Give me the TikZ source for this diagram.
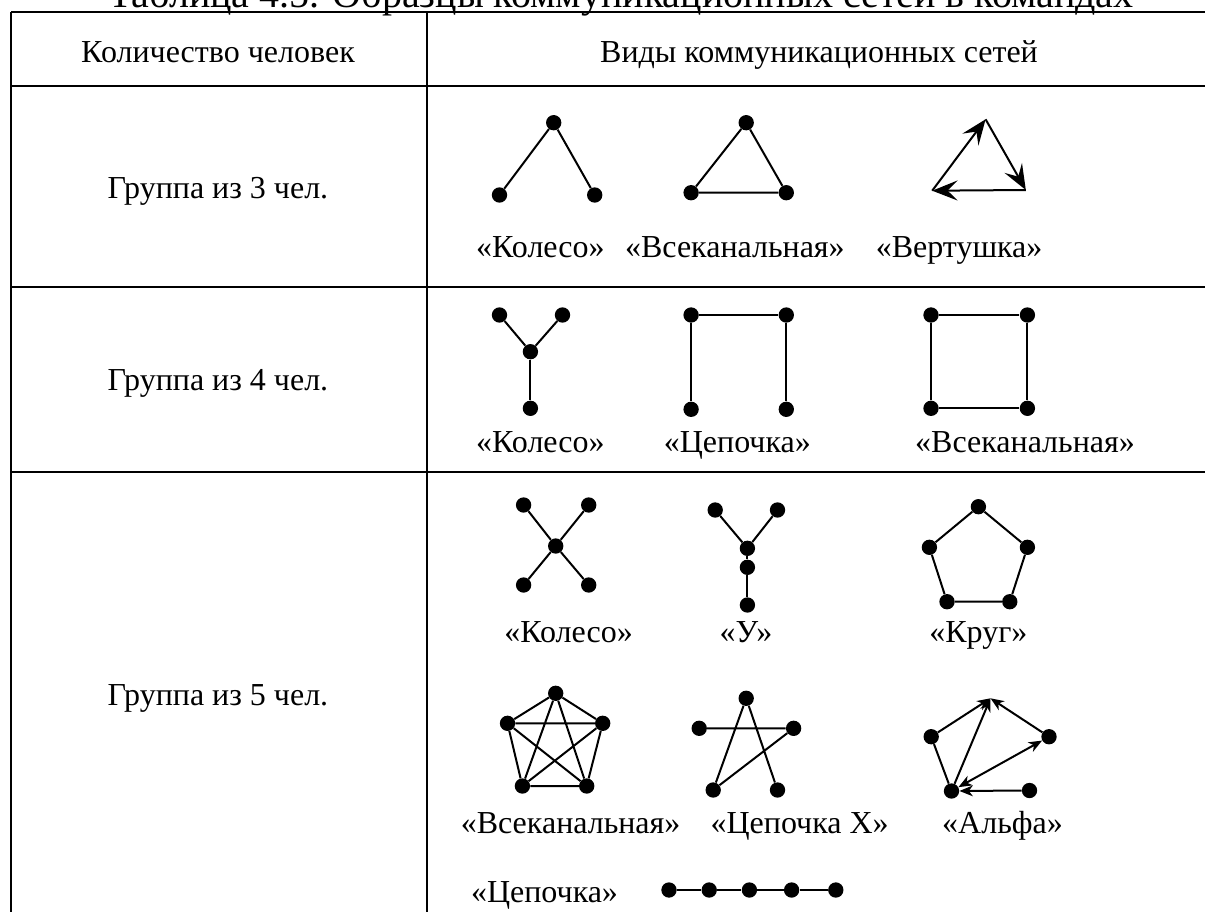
\documentclass[tikz,border=0pt]{standalone}
\usepackage{fontspec}
\setmainfont{LiberationSerif}[Extension=.ttf,UprightFont=*-Regular,BoldFont=*-Bold]
\usetikzlibrary{arrows.meta}
\begin{document}
\begin{tikzpicture}[x=0.75pt,y=-0.75pt,
  dot/.style={circle,fill=black,inner sep=0pt,minimum size=11.5pt},
  link/.style={line width=1.5pt},
  rule/.style={line width=2.2pt},
  txt/.style={font=\rmfamily\fontsize{24}{28}\selectfont,inner sep=0pt,anchor=base},
  captiontxt/.style={font=\rmfamily\fontsize{30}{34}\selectfont,inner sep=0pt,anchor=base},
  bigarrow/.style={link,-{Stealth[length=19pt,width=15pt,inset=7.5pt]}},
  smallarrow/.style={link,-{Stealth[length=10pt,width=8pt,inset=3pt]}},
  smallboth/.style={link,{Stealth[length=10pt,width=8pt,inset=3pt]}-{Stealth[length=10pt,width=8pt,inset=3pt]}},
]
\useasboundingbox (0,0) rectangle (1205,911);
\clip (0,0) rectangle (1205,911);

% caption
\node[captiontxt] (caption) at (621,7) {Таблица 4.5. Образцы коммуникационных сетей в командах};

% table rules
\draw[rule] (11,12) -- (1210,12);
\draw[rule] (11,86) -- (1210,86);
\draw[rule] (11,287) -- (1210,287);
\draw[rule] (11,472) -- (1210,472);
\draw[rule] (11,12) -- (11,915);
\draw[rule] (427,12) -- (427,915);

% header
\node[txt] (h1) at (218,62) {Количество человек};
\node[txt] (h2) at (819,62) {Виды коммуникационных сетей};

% left column
\node[txt] (g3) at (218,198.5) {Группа из 3 чел.};
\node[txt] (g4) at (218,390) {Группа из 4 чел.};
\node[txt] (g5) at (218,705) {Группа из 5 чел.};

% ---------- groups of three ----------
% wheel
\node[dot] (a1) at (553.7,122.7) {};
\node[dot] (a2) at (499.5,195) {};
\node[dot] (a3) at (594.7,195) {};
\draw[link] (a2) -- (a1) -- (a3);
% all-channel
\node[dot] (b1) at (746.2,122.7) {};
\node[dot] (b2) at (691.1,192.7) {};
\node[dot] (b3) at (786.3,192.7) {};
\draw[link] (b1) -- (b2) -- (b3) -- (b1);
% pinwheel
\coordinate (c1) at (985.6,119.3);
\coordinate (c2) at (932.2,190.7);
\coordinate (c3) at (1025.8,190);
\draw[bigarrow] (c2) -- (c1);
\draw[bigarrow] (c1) -- (c3);
\draw[bigarrow] (c3) -- (c2);
\node[txt] (la) at (540.4,257) {«Колесо»};
\node[txt] (lb) at (734.9,257) {«Всеканальная»};
\node[txt] (lc) at (959.1,257) {«Вертушка»};

% ---------- groups of four ----------
% wheel
\node[dot] (d1) at (499.5,315) {};
\node[dot] (d2) at (562.5,315) {};
\node[dot] (d3) at (530.4,351.7) {};
\node[dot] (d4) at (530.4,408.3) {};
\draw[link] (d1) -- (d3) -- (d2);
\draw[link] (d3) -- (d4);
% chain
\node[dot] (e1) at (691.1,315) {};
\node[dot] (e2) at (786.3,315) {};
\node[dot] (e3) at (691.1,409.3) {};
\node[dot] (e4) at (786.3,409.3) {};
\draw[link] (e3) -- (e1) -- (e2) -- (e4);
% all-channel
\node[dot] (f1) at (931,315) {};
\node[dot] (f2) at (1027.4,315) {};
\node[dot] (f3) at (931,408.3) {};
\node[dot] (f4) at (1027.4,408.3) {};
\draw[link] (f1) -- (f2) -- (f4) -- (f3) -- (f1);
\node[txt] (ld) at (540.4,452) {«Колесо»};
\node[txt] (le) at (737.3,452) {«Цепочка»};
\node[txt] (lf) at (1025,452) {«Всеканальная»};

% ---------- groups of five ----------
% wheel
\node[dot] (k1) at (523.6,505) {};
\node[dot] (k2) at (588.7,505) {};
\node[dot] (k0) at (555.7,546) {};
\node[dot] (k3) at (523.6,585) {};
\node[dot] (k4) at (588.7,585) {};
\draw[link] (k1) -- (k0) -- (k4);
\draw[link] (k2) -- (k0) -- (k3);
% Y
\node[dot] (y1) at (715.2,510) {};
\node[dot] (y2) at (777.5,510) {};
\node[dot] (y3) at (747.4,548.3) {};
\node[dot] (y4) at (747.4,567.3) {};
\node[dot] (y5) at (747.4,605) {};
\draw[link] (y1) -- (y3) -- (y2);
\draw[link] (y3) -- (y4) -- (y5);
% circle
\node[dot] (r1) at (978.4,506.7) {};
\node[dot] (r2) at (1027.4,547.3) {};
\node[dot] (r3) at (1009.8,601.7) {};
\node[dot] (r4) at (947,601.7) {};
\node[dot] (r5) at (929.4,547.3) {};
\draw[link] (r1) -- (r2) -- (r3) -- (r4) -- (r5) -- (r1);
\node[txt] (lk) at (568.6,642) {«Колесо»};
\node[txt] (ly) at (746,642) {«У»};
\node[txt] (lr) at (978.4,642) {«Круг»};

% all-channel
\node[dot] (p1) at (555.7,693.3) {};
\node[dot] (p2) at (602.7,723.3) {};
\node[dot] (p3) at (586.7,786) {};
\node[dot] (p4) at (522.4,786) {};
\node[dot] (p5) at (507.5,723.3) {};
\draw[link] (p1) -- (p2) -- (p3) -- (p4) -- (p5) -- (p1);
\draw[link] (p1) -- (p3) -- (p5) -- (p2) -- (p4) -- (p1);
% chain X
\node[dot] (x1) at (746.2,698.3) {};
\node[dot] (x2) at (793.6,728.3) {};
\node[dot] (x3) at (777.5,790) {};
\node[dot] (x4) at (713.2,790) {};
\node[dot] (x5) at (699.2,728.3) {};
\draw[link] (x3) -- (x1) -- (x4) -- (x2) -- (x5);
% alpha
\coordinate (t1) at (990.5,698.3);
\node[dot] (t2) at (1049,736.7) {};
\node[dot] (t3) at (1029.5,790.5) {};
\node[dot] (t4) at (951.5,791) {};
\node[dot] (t5) at (931.2,736.7) {};
\draw[smallarrow] (t5) -- (t1);
\draw[smallarrow] (t4) -- (t1);
\draw[smallarrow] (t2) -- (t1);
\draw[smallboth] (t4) -- (t2);
\draw[smallarrow] (t3) -- (t4);
\draw[link] (t5) -- (t4);
\node[txt] (lp) at (570.6,833) {«Всеканальная»};
\node[txt] (lx) at (799.6,833) {«Цепочка Х»};
\node[txt] (lt) at (1002.5,833) {«Альфа»};

% plain chain
\node[dot] (q1) at (669,890) {};
\node[dot] (q2) at (709.2,890) {};
\node[dot] (q3) at (749.4,890) {};
\node[dot] (q4) at (791.6,890) {};
\node[dot] (q5) at (835.8,890) {};
\draw[link] (q1) -- (q2) -- (q3) -- (q4) -- (q5);
\node[txt] (lq) at (544.5,902) {«Цепочка»};
\end{tikzpicture}
\end{document}
